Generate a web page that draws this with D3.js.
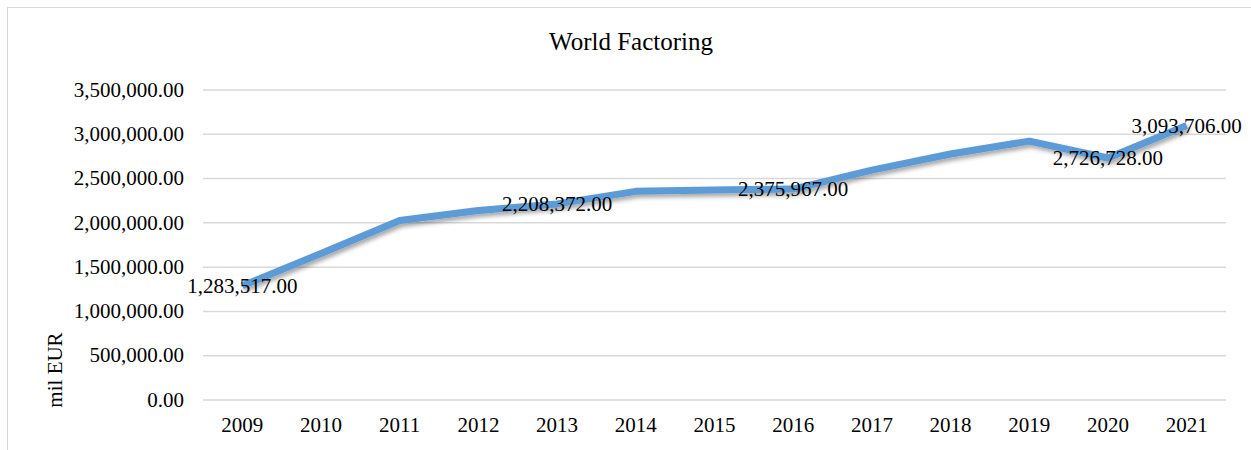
<!DOCTYPE html>
<html>
<head>
<meta charset="utf-8">
<script src="https://cdn.jsdelivr.net/npm/d3@7"></script>
</head>
<body style="margin:0; background:#fff">
<svg id="chart" width="1251" height="450"></svg>
<script>
const years = ['2009', '2010', '2011', '2012', '2013', '2014', '2015', '2016', '2017', '2018', '2019', '2020', '2021'];
const values = [1283517, 1648000, 2022000, 2133000, 2208372, 2350000, 2366000, 2375967, 2590000, 2772000, 2917000, 2726728, 3093706];
// only some points carry a data label in the original
const labelled = ['2009', '2013', '2016', '2020', '2021'];
const yTicks = [0, 500000, 1000000, 1500000, 2000000, 2500000, 3000000, 3500000];

const FONT = 'Liberation Serif';
const svg = d3.select('#chart');
const plot = { left: 203, right: 1226, top: 89.5, bottom: 399.5 };

// outer frame
svg.append('rect')
  .attr('x', 7.5).attr('y', 7.5)
  .attr('width', 1260).attr('height', 460)
  .attr('fill', 'none').attr('stroke', '#d9d9d9');

svg.append('defs').append('filter')
  .attr('id', 'shadow')
  .attr('x', '-5%').attr('y', '-20%').attr('width', '110%').attr('height', '140%')
  .append('feDropShadow')
  .attr('dx', 2).attr('dy', 3).attr('stdDeviation', 2)
  .attr('flood-color', '#000').attr('flood-opacity', 0.35);

const x = d3.scaleBand().domain(years).range([plot.left, plot.right]);
const y = d3.scaleLinear().domain([0, 3500000]).range([plot.bottom, plot.top]);
const fmt = d3.format(',.2f');

// gridlines + y labels
const yAxis = svg.append('g')
  .attr('transform', `translate(${plot.left},0)`)
  .call(d3.axisLeft(y).tickValues(yTicks).tickSize(-(plot.right - plot.left)).tickPadding(19).tickFormat(fmt));
yAxis.select('.domain').remove();
yAxis.selectAll('line').attr('stroke', '#d9d9d9').attr('stroke-width', 1.5);

// x labels
const xAxis = svg.append('g')
  .attr('transform', `translate(0,${plot.bottom})`)
  .call(d3.axisBottom(x).tickSize(0).tickPadding(18));
xAxis.select('.domain').remove();

const line = d3.line()
  .x((d, i) => x(years[i]) + x.bandwidth() / 2)
  .y(d => y(d));

svg.append('path')
  .datum(values)
  .attr('d', line)
  .attr('fill', 'none')
  .attr('stroke', '#5b9bd5')
  .attr('stroke-width', 7)
  .attr('stroke-linejoin', 'round')
  .attr('filter', 'url(#shadow)');

// data labels, centred on the point
svg.append('g')
  .selectAll('text')
  .data(years.map((yr, i) => ({ yr, v: values[i] })).filter(d => labelled.includes(d.yr)))
  .join('text')
  .attr('x', d => x(d.yr) + x.bandwidth() / 2)
  .attr('y', d => y(d.v))
  .attr('dy', '0.35em')
  .attr('text-anchor', 'middle')
  .text(d => fmt(d.v));

svg.append('text')
  .attr('class', 'title')
  .attr('x', 631).attr('y', 50)
  .attr('text-anchor', 'middle')
  .text('World Factoring');

svg.append('text')
  .attr('transform', 'translate(62,370) rotate(-90)')
  .attr('text-anchor', 'middle')
  .text('mil EUR');

svg.selectAll('text')
  .style('font-family', FONT)
  .style('font-size', '21px')
  .style('fill', '#000');
svg.select('.title').style('font-size', '25px');
</script>
</body>
</html>
